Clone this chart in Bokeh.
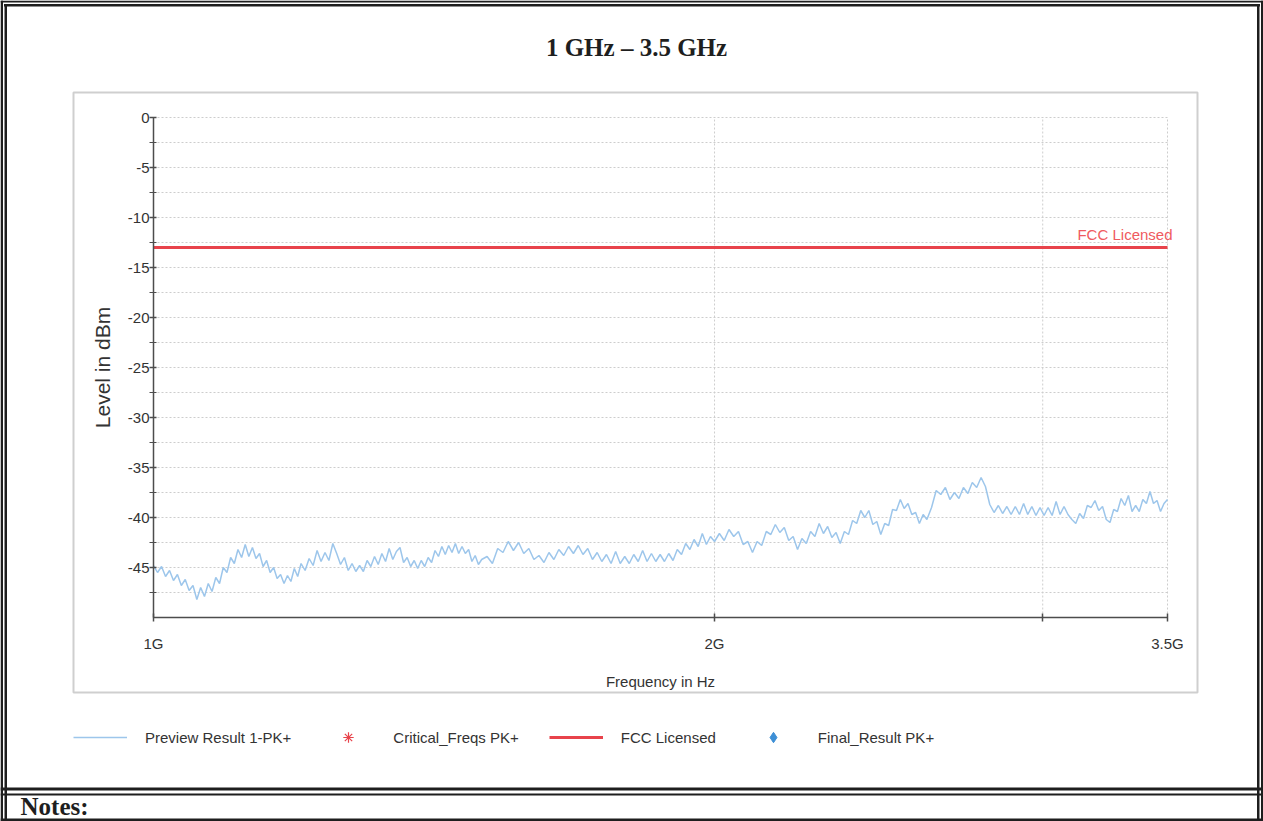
import math
from bokeh.plotting import figure
from bokeh.models import (ColumnDataSource, FixedTicker, Label, BoxAnnotation,
                          Legend, LegendItem, Range1d, PrintfTickFormatter)
from bokeh.embed import file_html
from bokeh.resources import INLINE

# ---------------- data ----------------
FREQ_MHZ = [
    1000, 1005, 1010, 1015, 1020, 1025, 1030, 1035, 1040, 1045,
    1050, 1055, 1060, 1065, 1070, 1075, 1080, 1085, 1090, 1095,
    1100, 1105, 1110, 1115, 1120, 1125, 1130, 1135, 1140, 1145,
    1150, 1155, 1160, 1165, 1170, 1175, 1180, 1185, 1190, 1195,
    1200, 1206, 1212, 1218, 1224, 1230, 1236, 1242, 1248, 1254,
    1260, 1266, 1272, 1278, 1284, 1290, 1296, 1302, 1308, 1314,
    1320, 1326, 1332, 1338, 1344, 1350, 1356, 1362, 1368, 1374,
    1380, 1386, 1392, 1398, 1404, 1410, 1416, 1422, 1428, 1434,
    1440, 1446, 1452, 1458, 1464, 1470, 1476, 1482, 1488, 1494,
    1500, 1510, 1520, 1530, 1540, 1550, 1560, 1570, 1580, 1590,
    1600, 1610, 1620, 1630, 1640, 1650, 1660, 1670, 1680, 1690,
    1700, 1710, 1720, 1730, 1740, 1750, 1760, 1770, 1780, 1790,
    1800, 1810, 1820, 1830, 1840, 1850, 1860, 1870, 1880, 1890,
    1900, 1910, 1920, 1930, 1940, 1950, 1960, 1970, 1980, 1990,
    2000, 2012, 2024, 2036, 2048, 2060, 2072, 2084, 2096, 2108,
    2120, 2132, 2144, 2156, 2168, 2180, 2192, 2204, 2216, 2228,
    2240, 2252, 2264, 2276, 2288, 2300, 2312, 2324, 2336, 2348,
    2360, 2372, 2384, 2396, 2408, 2420, 2432, 2444, 2456, 2468,
    2480, 2492, 2504, 2516, 2528, 2540, 2552, 2564, 2576, 2588,
    2600, 2615, 2630, 2645, 2660, 2675, 2690, 2705, 2720, 2735,
    2750, 2765, 2780, 2795, 2810, 2825, 2840, 2855, 2870, 2885,
    2900, 2915, 2930, 2945, 2960, 2975, 2990, 3005, 3020, 3035,
    3050, 3065, 3080, 3095, 3110, 3125, 3140, 3155, 3170, 3185,
    3200, 3215, 3230, 3245, 3260, 3275, 3290, 3305, 3320, 3335,
    3350, 3365, 3380, 3395, 3410, 3425, 3440, 3455, 3470, 3485,
    3500,
]

LEVEL_DBM = [
    -44.8, -45.5, -44.9, -45.9, -45.3, -46.3, -45.7, -46.8, -46.2, -47.3,
    -46.8, -48.2, -47.0, -47.9, -46.6, -47.4, -46.0, -46.6, -45.0, -45.5,
    -44.0, -44.6, -43.2, -44.0, -42.7, -43.9, -43.0, -44.1, -43.6, -44.9,
    -44.3, -45.5, -45.0, -46.1, -45.7, -46.6, -45.8, -46.4, -45.1, -45.9,
    -44.6, -45.3, -44.1, -44.8, -43.3, -44.4, -43.5, -44.3, -42.6, -43.6,
    -44.7, -44.0, -45.3, -44.6, -45.4, -44.8, -45.4, -44.3, -44.9, -43.9,
    -44.7, -43.6, -44.4, -43.1, -44.2, -43.4, -43.0, -44.5, -44.0, -44.9,
    -44.3, -45.1, -44.3, -44.9, -44.0, -44.5, -43.3, -43.9, -42.9, -43.7,
    -42.8, -43.5, -42.6, -43.6, -42.9, -43.6, -43.2, -44.4, -43.8, -44.7,
    -44.2, -43.9, -44.6, -43.1, -43.5, -42.4, -43.3, -42.5, -43.6, -43.1,
    -44.2, -43.8, -44.5, -43.5, -44.2, -43.2, -43.8, -42.9, -43.6, -42.8,
    -43.7, -43.1, -44.2, -43.5, -44.4, -43.7, -44.6, -43.4, -44.6, -43.9,
    -44.6, -43.7, -44.4, -43.3, -44.4, -43.6, -44.4, -43.7, -44.4, -43.6,
    -44.3, -43.2, -43.7, -42.6, -43.2, -42.2, -42.9, -41.6, -42.7, -41.9,
    -42.4, -41.6, -42.3, -41.2, -41.9, -41.4, -42.7, -42.4, -43.5, -42.4,
    -42.8, -41.4, -41.7, -40.7, -41.5, -41.0, -42.3, -41.9, -43.2, -42.1,
    -42.6, -41.4, -41.9, -40.6, -41.6, -40.9, -42.0, -41.5, -42.6, -41.4,
    -41.7, -40.3, -40.6, -39.3, -40.0, -39.3, -40.7, -40.4, -41.7, -40.6,
    -40.8, -39.2, -39.3, -38.2, -39.1, -38.6, -39.7, -39.5, -40.6, -39.7,
    -40.2, -39.0, -37.3, -37.7, -37.0, -38.2, -37.5, -38.1, -37.0, -37.6,
    -36.5, -37.0, -36.0, -36.9, -38.7, -39.5, -38.8, -39.6, -38.9, -39.7,
    -38.9, -39.7, -38.6, -39.7, -38.9, -39.8, -39.0, -39.8, -39.0, -39.8,
    -38.4, -39.7, -38.9, -39.7, -40.2, -40.6, -39.6, -40.1, -38.8, -39.0,
    -38.3, -39.3, -38.9, -40.2, -40.5, -39.2, -39.4, -38.1, -38.8, -37.8,
    -39.4, -38.8, -39.4, -38.2, -38.6, -37.4, -38.6, -38.3, -39.4, -38.6,
    -38.2,
]

LIMIT_FREQ_MHZ = [1000, 3500]
LIMIT_DBM = [-13.0, -13.0]
CRIT_FREQ_MHZ = []      # no critical frequencies in this sweep
CRIT_DBM = []
FINAL_FREQ_MHZ = []     # no final results in this sweep
FINAL_DBM = []

X_TICKS_GHZ = [1, 2, 3, 3.5]
X_TICK_LABELS = ["1G", "2G", "", "3.5G"]
Y_TICKS = [-45, -40, -35, -30, -25, -20, -15, -10, -5, 0]
Y_MINOR_TICKS = [-47.5, -42.5, -37.5, -32.5, -27.5, -22.5, -17.5, -12.5, -7.5, -2.5]
Y_BOUNDS = (-50, 0)

TITLE = "1 GHz \u2013 3.5 GHz"
LEGEND_LABELS = ["Preview Result 1-PK+", "Critical_Freqs PK+", "FCC Licensed", "Final_Result PK+"]
NOTES = "Notes:"

# ---------------- layout / styling ----------------
W, H = 1263, 821
DATA_L, DATA_R, DATA_T, DATA_B = 153, 1167, 117, 617   # data area on the page (px)
BASE_FIX = 9   # text baseline correction (px)
SANS = "Liberation Sans"
SERIF = "Liberation Serif"
TRACE_COLOR = "#9dc6eb"
LIMIT_COLOR = "#e8434b"
LIMIT_TEXT = "#ef5a60"
FINAL_COLOR = "#3d8fd6"
AXIS_COLOR = "#4d4d4d"
GRID_COLOR = "#cdcdcd"
TEXT_COLOR = "#333333"
INK = "#1e1e1e"

# ranges extended so that the data area sits at DATA_L..DATA_R / DATA_T..DATA_B
x0, x1 = math.log10(X_TICKS_GHZ[0]), math.log10(X_TICKS_GHZ[-1])
ppx = (DATA_R - DATA_L) / (x1 - x0)
x_start = 10 ** (x0 - DATA_L / ppx)
x_end = 10 ** (x1 + (W - DATA_R) / ppx)
y0, y1 = Y_BOUNDS
ppy = (DATA_B - DATA_T) / (y1 - y0)
y_start = y0 - (H - DATA_B) / ppy
y_end = y1 + DATA_T / ppy

n = min(len(FREQ_MHZ), len(LEVEL_DBM))
src = ColumnDataSource(data=dict(f=[v / 1000 for v in FREQ_MHZ[:n]], lvl=LEVEL_DBM[:n]))


def series(freqs, levels):
    # empty series keep one NaN row so that their legend glyph is still drawn
    if not freqs:
        return dict(f=[float("nan")], lvl=[float("nan")])
    return dict(f=[v / 1000 for v in freqs], lvl=list(levels))


p = figure(width=W, height=H, min_border=0, x_axis_type="log",
           x_range=Range1d(x_start, x_end), y_range=Range1d(y_start, y_end),
           output_backend="svg", toolbar_location=None,
           x_axis_label="Frequency in Hz", y_axis_label="Level in dBm")
p.outline_line_color = None
p.background_fill_color = "white"
p.border_fill_color = "white"
p.xgrid.visible = False
p.ygrid.visible = False

# axes (drawn at fixed data locations inside the canvas)
xa = p.xaxis[0]
ya = p.yaxis[0]
xa.ticker = FixedTicker(ticks=X_TICKS_GHZ, minor_ticks=[])
ya.ticker = FixedTicker(ticks=Y_TICKS, minor_ticks=Y_MINOR_TICKS)
xa.major_label_overrides = dict(zip(X_TICKS_GHZ, X_TICK_LABELS))
ya.formatter = PrintfTickFormatter(format="%d")
xa.fixed_location = Y_BOUNDS[0]
ya.fixed_location = X_TICKS_GHZ[0]
xa.bounds = (X_TICKS_GHZ[0], X_TICKS_GHZ[-1])
ya.bounds = Y_BOUNDS

for ax in (xa, ya):
    ax.axis_line_color = AXIS_COLOR
    ax.axis_line_width = 1.5
    ax.major_tick_line_color = AXIS_COLOR
    ax.major_tick_line_width = 1.5
    ax.minor_tick_line_color = AXIS_COLOR
    ax.major_label_text_font = SANS
    ax.major_label_text_font_size = "15px"
    ax.major_label_text_color = TEXT_COLOR
    ax.axis_label_text_font = SANS
    ax.axis_label_text_font_style = "normal"
    ax.axis_label_text_color = TEXT_COLOR

xa.major_tick_in = 4
xa.major_tick_out = 4
xa.major_label_standoff = 13
xa.axis_label_text_font_size = "15px"
xa.axis_label_standoff = 18

ya.major_tick_in = 3
ya.major_tick_out = 4
ya.minor_tick_in = 3
ya.minor_tick_out = 4
ya.major_label_standoff = 0
ya.axis_label_text_font_size = "21px"
ya.axis_label_standoff = 11

# dotted grid at the tick values
gy = sorted(Y_TICKS + Y_MINOR_TICKS)
p.segment(x0=[X_TICKS_GHZ[0]] * len(gy), x1=[X_TICKS_GHZ[-1]] * len(gy), y0=gy, y1=gy,
          line_color=GRID_COLOR, line_dash="2 2", line_width=1)
gx = X_TICKS_GHZ[1:]
p.segment(x0=gx, x1=gx, y0=[Y_BOUNDS[0]] * len(gx), y1=[Y_BOUNDS[1]] * len(gx),
          line_color=GRID_COLOR, line_dash="2 2", line_width=1)

# series
r_prev = p.line("f", "lvl", source=src, line_color=TRACE_COLOR, line_width=1.5)
r_crit = p.scatter("f", "lvl", source=ColumnDataSource(series(CRIT_FREQ_MHZ, CRIT_DBM)),
                   marker="asterisk", size=8, line_color=LIMIT_COLOR, line_width=1.2)
r_fcc = p.line([v / 1000 for v in LIMIT_FREQ_MHZ], LIMIT_DBM, line_color=LIMIT_COLOR, line_width=3)
r_final = p.scatter("f", "lvl", source=ColumnDataSource(series(FINAL_FREQ_MHZ, FINAL_DBM)),
                    marker="diamond", size=16, fill_color=FINAL_COLOR, line_color=FINAL_COLOR)

p.add_layout(Label(x=LIMIT_FREQ_MHZ[-1] / 1000, y=LIMIT_DBM[-1], text="FCC Licensed",
                   text_align="right", text_baseline="alphabetic", x_offset=5,
                   y_offset=5 + BASE_FIX - 1,
                   text_color=LIMIT_TEXT, text_font=SANS, text_font_size="15px"))

GLYPH_H = 26
legend = Legend(items=[LegendItem(label=LEGEND_LABELS[0], renderers=[r_prev]),
                       LegendItem(label=LEGEND_LABELS[1], renderers=[r_crit]),
                       LegendItem(label=LEGEND_LABELS[2], renderers=[r_fcc]),
                       LegendItem(label=LEGEND_LABELS[3], renderers=[r_final])],
                orientation="horizontal", location=(73, H - (737 + GLYPH_H / 2)),
                glyph_width=54, glyph_height=GLYPH_H, label_standoff=18, spacing=30,
                padding=0, margin=0, border_line_alpha=0, background_fill_alpha=0,
                label_text_font=SANS, label_text_font_size="15px",
                label_text_color=TEXT_COLOR)
p.add_layout(legend)


# ---------------- page decorations (page px, y measured from the top) ----------------
def box(bx0, by0, bx1, by1, fill=INK, line=None, lw=1):
    b = BoxAnnotation(left=bx0, right=bx1, top=H - by0, bottom=H - by1,
                      left_units="screen", right_units="screen",
                      top_units="screen", bottom_units="screen",
                      fill_color=fill if fill else "white", fill_alpha=1 if fill else 0,
                      line_color=line if line else "black", line_alpha=1 if line else 0,
                      line_width=lw, line_dash="solid")
    p.add_layout(b)


box(73, 92, 1197, 692, fill=None, line="#cfcfcf", lw=2)   # chart box

box(0, 0, W, 2)            # page frame, double lines
box(3.5, 3.5, W - 3.5, 6)
box(0, 0, 2.5, H)
box(4, 3.5, 6.5, H)
box(W - 2.5, 0, W, H)
box(W - 6.5, 3.5, W - 4, H)
box(0, 787, W, 790)        # separator above notes
box(0, 793, W, 795)
box(0, 818, W, H)          # bottom line

p.add_layout(Label(x=636, y=H - (56 - BASE_FIX), x_units="screen", y_units="screen", text=TITLE,
                   text_align="center", text_baseline="alphabetic",
                   text_font=SERIF, text_font_style="bold", text_font_size="25px",
                   text_color=INK))
p.add_layout(Label(x=20, y=H - (815 - BASE_FIX), x_units="screen", y_units="screen", text=NOTES,
                   text_align="left", text_baseline="alphabetic",
                   text_font=SERIF, text_font_style="bold", text_font_size="25px",
                   text_color=INK))

open("out.html", "w").write(file_html(p, INLINE))
